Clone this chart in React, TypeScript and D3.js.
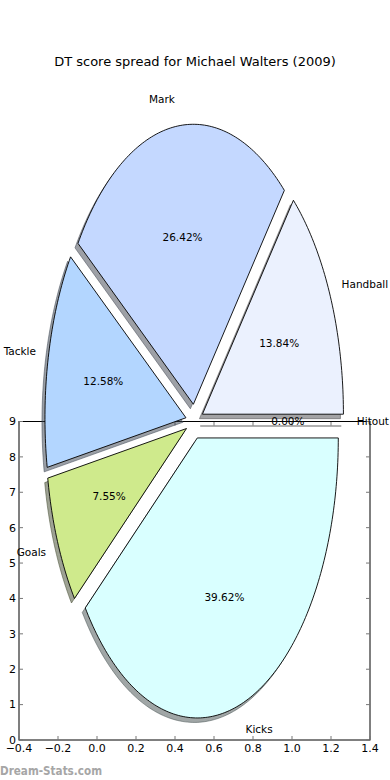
import React from 'react';
import * as d3 from 'd3';

// DT score categories, shares in percent (matplotlib order, counter-clockwise from 3 o'clock)
const categories = ['Hitout', 'Handball', 'Mark', 'Tackle', 'Goals', 'Kicks'];
const shares = [0.0, 13.84, 26.42, 12.58, 7.55, 39.62];
const colours = ['#ffffff', '#ebf1fe', '#c4d8ff', '#b3d6ff', '#cfea8c', '#d9ffff'];

const xTicks = [-0.4, -0.2, 0.0, 0.2, 0.4, 0.6, 0.8, 1.0, 1.2, 1.4];
const yTicks = [0, 1, 2, 3, 4, 5, 6, 7, 8, 9];

const W = 390;
const H = 780;
const FONT = '"DejaVu Sans", sans-serif';

const App = () => {
  const x = d3.scaleLinear().domain([-0.4, 1.4]).range([19, 370]);
  const y = d3.scaleLinear().domain([0, 9]).range([740, 421.5]);

  // pie lives in the data space, stretched by the unequal axis scales
  const cx = x(0.5);
  const cy = y(9);
  const rx = 141;
  const ry = 280;
  const explode = 0.062;
  const shadowDx = -3;
  const shadowDy = 4.5;

  const arcs = d3.pie<number>().sort(null).value(d => d).startAngle(0).endAngle(2 * Math.PI)(shares);
  const line = d3.line().curve(d3.curveLinearClosed);

  const wedges = arcs.map((a, i) => {
    const mid = (a.startAngle + a.endAngle) / 2;
    const ox = cx + explode * rx * Math.cos(mid);
    const oy = cy - explode * ry * Math.sin(mid);
    const pts: [number, number][] = [[ox, oy]];
    const n = Math.max(1, Math.ceil(((a.endAngle - a.startAngle) * 180) / Math.PI));
    for (let k = 0; k <= n; k++) {
      const t = a.startAngle + ((a.endAngle - a.startAngle) * k) / n;
      pts.push([ox + rx * Math.cos(t), oy - ry * Math.sin(t)]);
    }
    const lx = ox + 1.1 * rx * Math.cos(mid);
    const ly = oy - 1.1 * ry * Math.sin(mid);
    const c = d3.rgb(colours[i]);
    return {
      d: line(pts),
      fill: colours[i],
      shadow: d3.rgb(c.r * 0.3, c.g * 0.3, c.b * 0.3).toString(),
      label: categories[i],
      lx: lx - cx > 0 ? lx - 1.5 : lx + 1.5,
      ly,
      anchor: lx - cx > 0 ? 'start' : 'end',
      px: ox + 0.6 * rx * Math.cos(mid),
      py: oy - 0.6 * ry * Math.sin(mid),
      pct: shares[i].toFixed(2) + '%',
    };
  });

  return (
    <svg width={W} height={H} style={{ position: 'absolute', left: 0, top: 0, background: '#fff' }} fontFamily={FONT}>
      <rect width={W} height={H} fill="#fff" />
      <text x={195} y={61} dy="0.35em" textAnchor="middle" fontSize={13} fill="#000">
        DT score spread for Michael Walters (2009)
      </text>

      {/* axes frame and inward ticks */}
      <g stroke="#000" strokeWidth={1} fill="none">
        <rect x={x(-0.4)} y={y(9)} width={x(1.4) - x(-0.4)} height={y(0) - y(9)} />
      </g>
      <g stroke="#777" strokeWidth={1}>
        {xTicks.map(t => (
          <g key={'xt' + t}>
            <line x1={x(t)} x2={x(t)} y1={y(0)} y2={y(0) - 4} />
            <line x1={x(t)} x2={x(t)} y1={y(9)} y2={y(9) + 4} />
          </g>
        ))}
        {yTicks.map(t => (
          <g key={'yt' + t}>
            <line x1={x(-0.4)} x2={x(-0.4) + 4} y1={y(t)} y2={y(t)} />
            <line x1={x(1.4)} x2={x(1.4) - 4} y1={y(t)} y2={y(t)} />
          </g>
        ))}
      </g>
      <g fontSize={11} fill="#000">
        {xTicks.map(t => (
          <text key={'xl' + t} x={x(t)} y={752} textAnchor="middle">
            {d3.format('.1f')(t).replace('-', '\u2212')}
          </text>
        ))}
        {yTicks.map(t => (
          <text key={'yl' + t} x={16} y={y(t)} dy="0.35em" textAnchor="end">
            {t}
          </text>
        ))}
      </g>

      {/* shadows first, then wedges */}
      <g transform={`translate(${shadowDx},${shadowDy})`}>
        {wedges.map((w, i) => (
          <path key={'s' + i} d={w.d || ''} fill={w.shadow} fillOpacity={0.5} stroke={w.shadow} strokeOpacity={0.5} strokeWidth={1} />
        ))}
      </g>
      {wedges.map((w, i) => (
        <path key={'w' + i} d={w.d || ''} fill={w.fill} stroke="#000" strokeWidth={0.9} strokeLinejoin="miter" />
      ))}

      <g fontSize={10.5} fill="#000">
        {wedges.map((w, i) => (
          <text key={'l' + i} x={w.lx} y={w.ly} dy="0.35em" textAnchor={w.anchor}>
            {w.label}
          </text>
        ))}
        {wedges.map((w, i) => (
          <text key={'p' + i} x={w.px} y={w.py} dy="0.35em" textAnchor="middle">
            {w.pct}
          </text>
        ))}
      </g>

      <text x={0} y={775} fontSize={13} fontWeight="bold" fill="#a6a6a6" textLength={102} lengthAdjust="spacingAndGlyphs">
        Dream-Stats.com
      </text>
    </svg>
  );
};

export default App;
